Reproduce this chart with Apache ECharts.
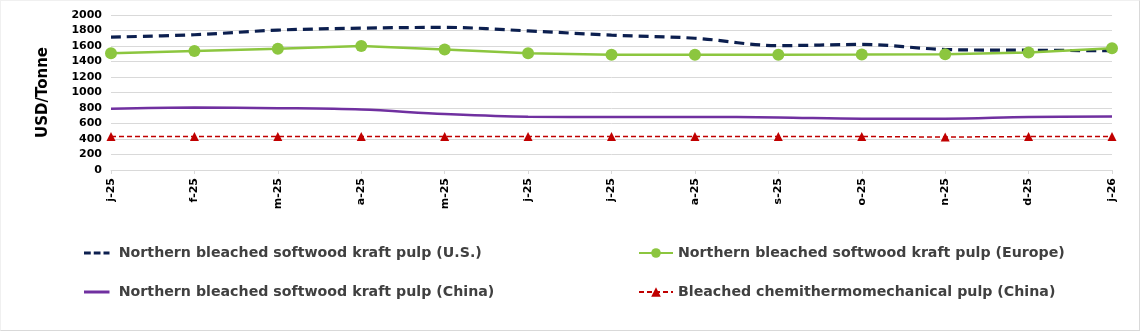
<!DOCTYPE html>
<html><head><meta charset="utf-8">
<script src="https://cdn.jsdelivr.net/npm/echarts@6/dist/echarts.min.js"></script>
<style>
html,body{margin:0;padding:0;background:#fff;}
#c{width:1138px;height:329px;border:1px solid #d9d9d9;border-top-color:#f0f0f0;border-left-color:#f0f0f0;}
</style></head><body>
<div id="c"></div>
<script>
const categories = ['j-25','f-25','m-25','a-25','m-25','j-25','j-25','a-25','s-25','o-25','n-25','d-25','j-26'];
const nbskUS     = [1715,1745,1805,1830,1840,1795,1740,1700,1605,1620,1555,1545,1540];
const nbskEurope = [1505,1535,1565,1600,1555,1505,1487,1487,1487,1490,1495,1515,1572];
const nbskChina  = [790,805,798,780,722,688,685,685,678,662,662,685,690];
const bctmpChina = [432,432,432,432,432,432,432,432,432,432,425,432,432];
const yTicks = [0,200,400,600,800,1000,1200,1400,1600,1800,2000];

const names = [
 'Northern bleached softwood kraft pulp (U.S.)',
 'Northern bleached softwood kraft pulp (Europe)',
 'Northern bleached softwood kraft pulp (China)',
 'Bleached chemithermomechanical pulp (China)'
];
const ff = 'DejaVu Sans, Verdana, sans-serif';
const legendText = {fontFamily: ff, fontWeight: 'bold', fontSize: 14.2, color: '#404040'};
function lg(item, left, top, h){
  return {data:[item], left:left, top:top, itemWidth:34, itemHeight:h||12, itemGap:0, padding:0,
          textStyle: legendText, selectedMode:false};
}
const dashIcon = 'path://M0,0h9v4h-9z M13,0h9v4h-9z M26,0h8v4h-8z';
const solidIcon = 'path://M0,0h34v4h-34z';
const chart = echarts.init(document.getElementById('c'), null, {renderer:'canvas'});
chart.setOption({
  animation:false,
  backgroundColor:'#fff',
  grid:{left:110, right:27, top:14, bottom:160, containLabel:false},
  legend:[
    lg({name:names[0], icon:dashIcon, itemStyle:{color:'#0c1f4f'}}, 83, 245, 3),
    lg(names[1], 637, 245),
    lg({name:names[2], icon:solidIcon, itemStyle:{color:'#7030a0'}}, 83, 284, 3),
    lg(names[3], 637, 284)
  ],
  xAxis:{type:'category', data:categories, boundaryGap:false,
    axisLine:{lineStyle:{color:'#d9d9d9'}},
    axisTick:{show:true, alignWithLabel:true, length:4, lineStyle:{color:'#d9d9d9'}},
    axisLabel:{rotate:90, fontFamily:ff, fontWeight:'bold', fontSize:11, color:'#000', margin:8, interval:0}},
  yAxis:{type:'value', min:0, max:2000, interval:200,
    name:'USD/Tonne', nameLocation:'middle', nameGap:60, nameRotate:90,
    nameTextStyle:{fontFamily:ff, fontWeight:'bold', fontSize:15, color:'#000'},
    axisLine:{show:false}, axisTick:{show:false},
    splitLine:{lineStyle:{color:'#d9d9d9', width:1}},
    axisLabel:{fontFamily:ff, fontWeight:'bold', fontSize:11, color:'#000', margin:9,
      formatter: v => yTicks.includes(v) ? String(v) : ''}},
  series:[
    {name:names[0], type:'line', data:nbskUS, smooth:0.35, symbol:'none', z:3,
     lineStyle:{color:'#0c1f4f', width:3.2, type:[10,6]}, itemStyle:{color:'#0c1f4f'}},
    {name:names[1], type:'line', data:nbskEurope, smooth:false, symbol:'circle', symbolSize:12, z:4,
     lineStyle:{color:'#8cc63f', width:2.5}, itemStyle:{color:'#8cc63f'}},
    {name:names[2], type:'line', data:nbskChina, smooth:0.35, symbol:'none', z:2,
     lineStyle:{color:'#7030a0', width:2.5}, itemStyle:{color:'#7030a0'}},
    {name:names[3], type:'line', data:bctmpChina, smooth:false, symbol:'triangle', symbolSize:9, z:2,
     lineStyle:{color:'#c00000', width:1.5, type:[5,3]}, itemStyle:{color:'#c00000'}}
  ]
});
</script></body></html>
